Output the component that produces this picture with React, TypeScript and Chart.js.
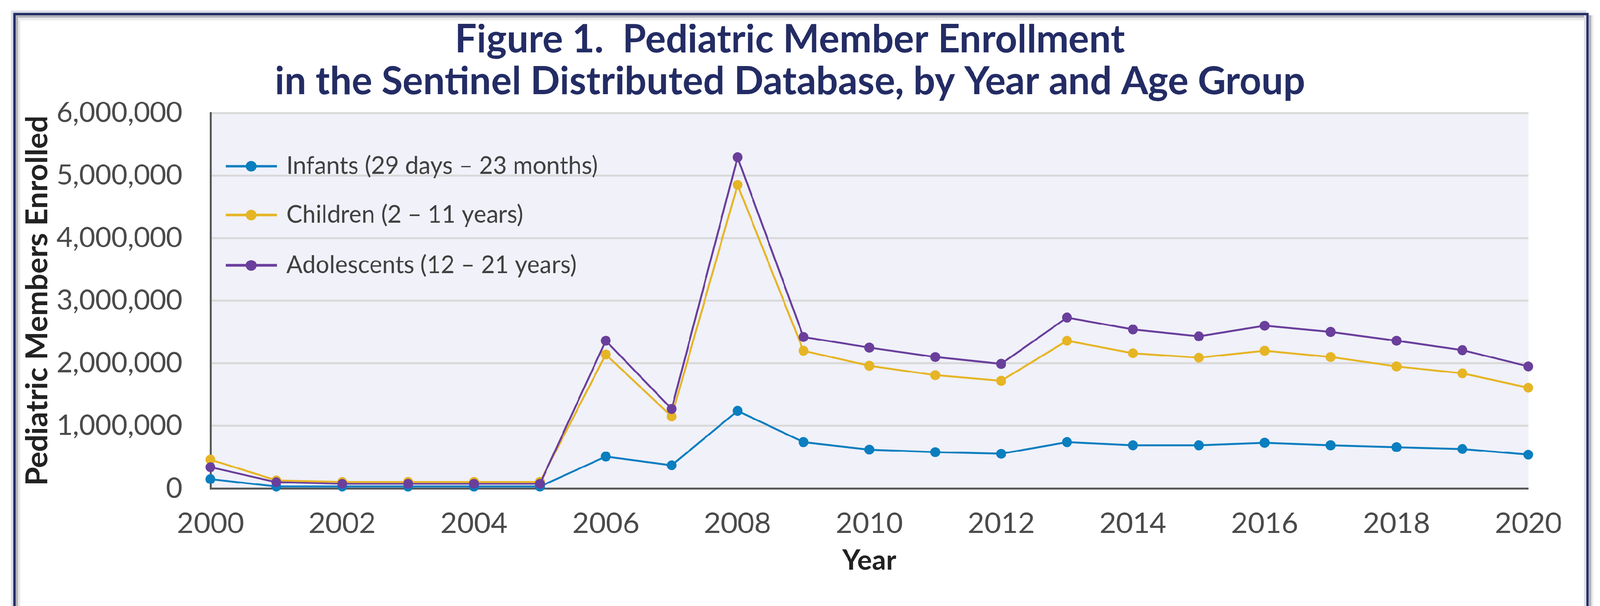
import React, { useEffect, useRef } from 'react';
import { Chart, registerables } from 'chart.js';

Chart.register(...registerables);

const years = ['2000', '2001', '2002', '2003', '2004', '2005', '2006', '2007', '2008', '2009', '2010', '2011', '2012', '2013', '2014', '2015', '2016', '2017', '2018', '2019', '2020'];
const infants = [150000, 30000, 30000, 30000, 30000, 30000, 510000, 370000, 1240000, 740000, 620000, 580000, 555000, 740000, 690000, 690000, 730000, 690000, 660000, 630000, 540000];
const children = [460000, 130000, 105000, 105000, 105000, 105000, 2140000, 1150000, 4850000, 2200000, 1960000, 1810000, 1720000, 2360000, 2160000, 2090000, 2200000, 2100000, 1950000, 1840000, 1610000];
const adolescents = [340000, 100000, 75000, 75000, 75000, 75000, 2360000, 1270000, 5290000, 2420000, 2250000, 2100000, 1990000, 2730000, 2540000, 2430000, 2600000, 2500000, 2360000, 2210000, 1950000];
const seriesLabels = ['Infants (29 days \u2013 23 months)', 'Children (2 \u2013 11 years)', 'Adolescents (12 \u2013 21 years)'];
const seriesColors = ['#0a7ebf', '#e6b526', '#6a3f9c'];
const titleLines = ['Figure 1.  Pediatric Member Enrollment', 'in the Sentinel Distributed Database, by Year and Age Group'];
const yAxisTitle = 'Pediatric Members Enrolled';
const xAxisTitle = 'Year';

const FONT = 'Lato';
const DESIGN_W = 4197;
const DESIGN_H = 1551;

const plotBg = {
  id: 'plotBg',
  beforeDraw(chart: any) {
    const { ctx, chartArea } = chart;
    ctx.save();
    ctx.fillStyle = '#f0f1f9';
    ctx.fillRect(chartArea.left, chartArea.top, chartArea.right - chartArea.left, chartArea.bottom - chartArea.top);
    ctx.restore();
  },
};

const insideLegend = {
  id: 'insideLegend',
  afterDraw(chart: any) {
    const { ctx, chartArea } = chart;
    const rows = [140, 268, 400];
    ctx.save();
    seriesLabels.forEach((label, i) => {
      const y = chartArea.top + rows[i];
      const x0 = chartArea.left;
      ctx.strokeStyle = seriesColors[i];
      ctx.lineWidth = 7;
      ctx.beginPath();
      ctx.moveTo(x0 + 40, y);
      ctx.lineTo(x0 + 174, y);
      ctx.stroke();
      ctx.fillStyle = seriesColors[i];
      ctx.beginPath();
      ctx.arc(x0 + 107, y, 14, 0, Math.PI * 2);
      ctx.fill();
      ctx.fillStyle = '#404040';
      ctx.font = `63px ${FONT}`;
      ctx.textBaseline = 'middle';
      ctx.textAlign = 'left';
      ctx.fillText(label, x0 + 199, y);
    });
    ctx.restore();
  },
};

export default function App() {
  const ref = useRef<HTMLCanvasElement>(null);
  const scale = typeof window !== 'undefined' && window.innerWidth ? window.innerWidth / DESIGN_W : 1;

  useEffect(() => {
    const seriesData = [infants, children, adolescents];
    const chart = new Chart(ref.current as HTMLCanvasElement, {
      type: 'line',
      data: {
        labels: years,
        datasets: seriesData.map((d, i) => ({
          label: seriesLabels[i],
          data: d,
          borderColor: seriesColors[i],
          backgroundColor: seriesColors[i],
          pointBackgroundColor: seriesColors[i],
          pointBorderColor: seriesColors[i],
          pointBorderWidth: 0,
          pointRadius: 13,
          pointHoverRadius: 13,
          borderWidth: 5,
          tension: 0,
          clip: false as any,
          order: 2 - i,
        })),
      },
      options: {
        responsive: true,
        maintainAspectRatio: false,
        animation: false,
        devicePixelRatio: 1,
        layout: { padding: { left: 102, right: 102, top: 0, bottom: 10 } },
        plugins: {
          legend: { display: false },
          tooltip: { enabled: false },
          title: {
            display: true,
            text: titleLines,
            color: '#232c64',
            font: { family: FONT, size: 101, weight: 'bold', lineHeight: 110 / 101 },
            padding: { top: 49, bottom: 27 },
          },
        },
        scales: {
          x: {
            type: 'category',
            offset: false,
            grid: { display: false, drawTicks: false },
            border: { display: true, color: '#595959', width: 5 },
            ticks: {
              autoSkip: false,
              maxRotation: 0,
              padding: 47,
              color: '#4a4a4a',
              font: { family: FONT, size: 76 },
              callback: (_v: any, i: number) => (i % 2 === 0 ? years[i] : ''),
            },
            title: {
              display: true,
              text: xAxisTitle,
              color: '#222222',
              font: { family: FONT, size: 73, weight: 'bold', lineHeight: 1.2 },
              padding: { top: 0, bottom: 27 },
            },
            afterFit: (s: any) => {
              s.height = 260;
            },
          },
          y: {
            min: 0,
            max: 6000000,
            grid: { color: '#d9d9d9', lineWidth: 5, drawTicks: false },
            border: { display: true, color: '#595959', width: 5 },
            ticks: {
              stepSize: 1000000,
              padding: 74,
              color: '#4a4a4a',
              font: { family: FONT, size: 73 },
              callback: (v: any) => Number(v).toLocaleString('en-US'),
            },
            title: {
              display: true,
              text: yAxisTitle,
              color: '#222222',
              font: { family: FONT, size: 79, weight: 'bold', lineHeight: 1.2 },
              padding: { top: -51, bottom: 0 },
            },
            afterFit: (s: any) => {
              s.width = 450;
            },
          },
        },
      } as any,
      plugins: [plotBg, insideLegend],
    });
    return () => chart.destroy();
  }, []);

  const abs = (left: number, top: number, width: number, height: number, bg: string): React.CSSProperties => ({
    position: 'absolute', left, top, width, height, background: bg,
  });

  return (
    <div
      style={{
        position: 'fixed', left: 0, top: 0, width: DESIGN_W, height: DESIGN_H + 150, background: '#ffffff', overflow: 'hidden',
        transform: `scale(${scale})`, transformOrigin: '0 0',
      }}
    >
      <div style={abs(29, 28, 4132, 1800, '#dcdee8')} />
      <div style={abs(35, 34, 4132, 1800, '#232c64')} />
      <div style={abs(41, 40, 4120, 1800, '#b1b4bb')} />
      <div style={abs(47, 46, 4108, 1800, '#eaeaea')} />
      <div style={abs(53, 53, 4102, 1800, '#ffffff')} />
      <div style={abs(4155, 40, 6, 1800, '#dcdee8')} />
      <div style={abs(4167, 40, 7, 1800, '#b1b4bb')} />
      <div style={abs(4174, 40, 6, 1800, '#eaeaea')} />
      <div style={{ position: 'absolute', left: 0, top: 0, width: 4144, height: DESIGN_H }}>
        <canvas ref={ref} />
      </div>
    </div>
  );
}
